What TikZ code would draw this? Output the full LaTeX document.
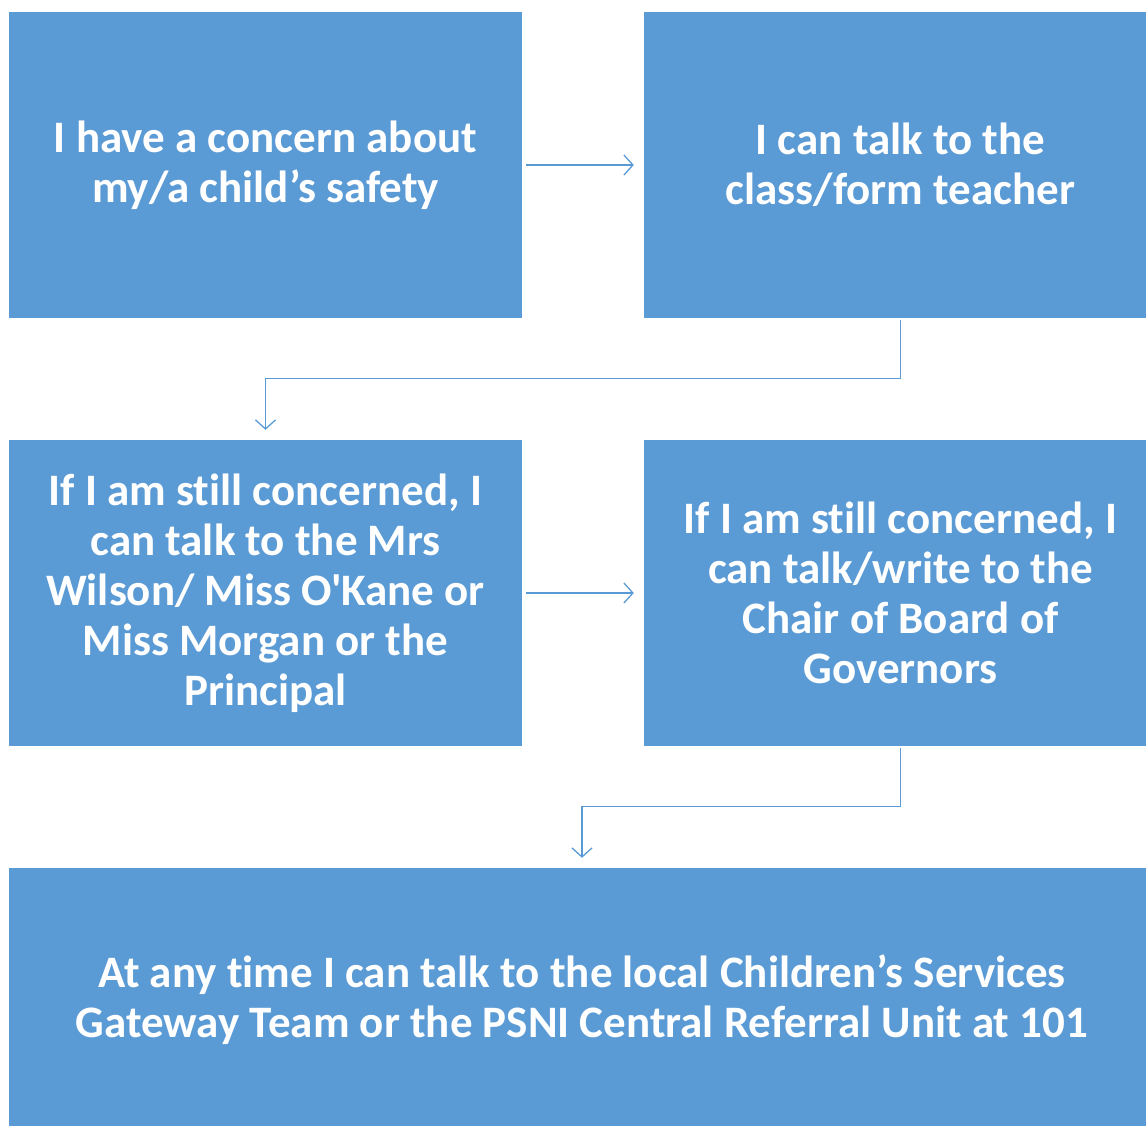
\documentclass[tikz,border=0pt]{standalone}
\usepackage{fontspec}
\setmainfont{Carlito}[Ligatures={CommonOff,TeXOff}]
\usetikzlibrary{arrows.meta}
\definecolor{boxblue}{HTML}{5B9BD5}
\begin{document}
\begin{tikzpicture}[x=1pt,y=-1pt,
  box/.style={fill=boxblue, draw=none, inner sep=0pt, text=white, align=center,
    font=\fontsize{45}{50}\selectfont\bfseries, minimum width=513pt, minimum height=306pt},
  conn/.style={draw=boxblue, line width=1.3pt, -{Straight Barb[length=9pt,width=20pt,line width=1.3pt]}}]
\useasboundingbox (0,0) rectangle (1146,1126);
\clip (0,0) rectangle (1146,1126);
\node[box] (b1) at (265.5,165) {I have a concern about\\my/a child’s safety};
\node[box] (b2) at (900.5,165) {I can talk to the\\class/form teacher};
\node[box] (b3) at (265.5,593) {If I am still concerned, I\\can talk to the Mrs\\Wilson/ Miss O'Kane or\\Miss Morgan or the\\Principal};
\node[box] (b4) at (900.5,593) {If I am still concerned, I\\can talk/write to the\\Chair of Board of\\Governors};
\node[box, minimum width=1146pt, minimum height=264pt] (b5) at (582,1000) {At any time I can talk to the local Children’s Services\\Gateway Team or the PSNI Central Referral Unit at 101};
\draw[conn, shorten <=4pt, shorten >=10pt] (b1.east) -- (b2.west);
\draw[conn, shorten <=4pt, shorten >=10pt] (b3.east) -- (b4.west);
\draw[conn, shorten <=2pt, shorten >=10pt] (b2.south) -- ++(0,60) -| (b3.north);
\draw[conn, shorten <=2pt, shorten >=10pt] (b4.south) -- ++(0,60) -| (b5.north);
\end{tikzpicture}
\end{document}
